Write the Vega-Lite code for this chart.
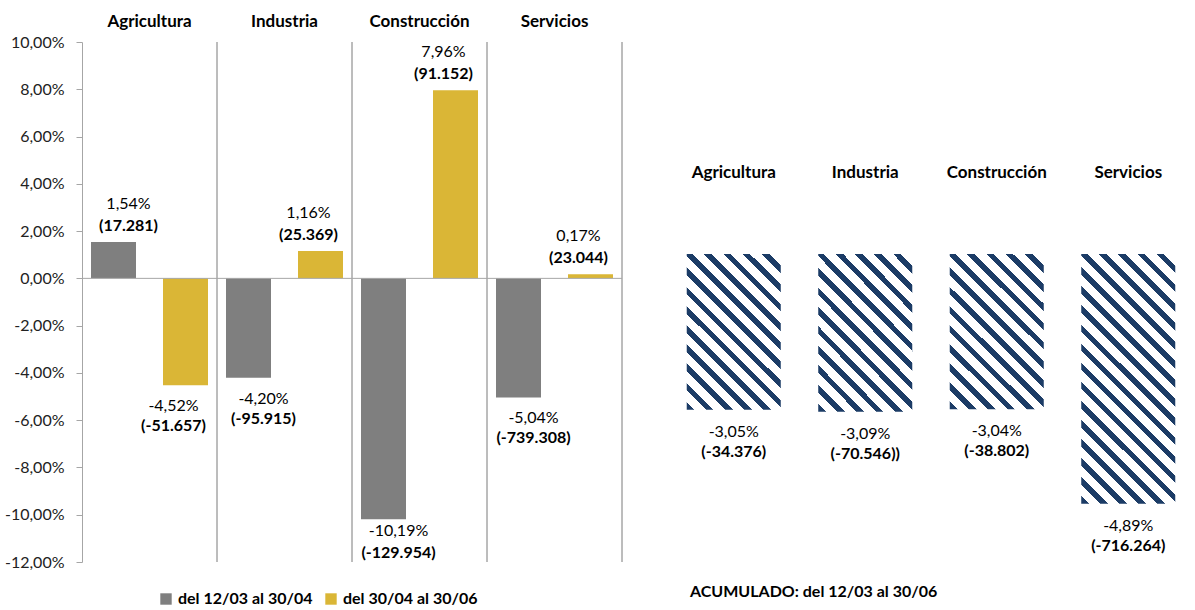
{
  "$schema": "https://vega.github.io/schema/vega-lite/v6.json",
  "padding": {"left": 4, "top": 12, "right": 0, "bottom": 0},
  "autosize": {"type": "pad"},
  "background": "white",
  "spacing": 46,
  "bounds": "flush",
  "config": {
    "view": {"stroke": null},
    "font": "Lato",
    "locale": {"number": {"decimal": ",", "thousands": ".", "grouping": [3], "currency": ["", " €"], "minus": "-"}},
    "axis": {"labelFont": "Lato"},
    "legend": {"labelFont": "Lato"},
    "title": {"font": "Lato"}
  },
  "datasets": {
    "left": [
      {"cat": "Agricultura", "series": "del 12/03 al 30/04", "value": 0.0154, "lab": "(17.281)"},
      {"cat": "Agricultura", "series": "del 30/04 al 30/06", "value": -0.0452, "lab": "(-51.657)"},
      {"cat": "Industria", "series": "del 12/03 al 30/04", "value": -0.0420, "lab": "(-95.915)"},
      {"cat": "Industria", "series": "del 30/04 al 30/06", "value": 0.0116, "lab": "(25.369)"},
      {"cat": "Construcción", "series": "del 12/03 al 30/04", "value": -0.1019, "lab": "(-129.954)"},
      {"cat": "Construcción", "series": "del 30/04 al 30/06", "value": 0.0796, "lab": "(91.152)"},
      {"cat": "Servicios", "series": "del 12/03 al 30/04", "value": -0.0504, "lab": "(-739.308)"},
      {"cat": "Servicios", "series": "del 30/04 al 30/06", "value": 0.0017, "lab": "(23.044)"}
    ],
    "right": [
      {"cat": "Agricultura", "value": -0.0305, "lab": "(-34.376)"},
      {"cat": "Industria", "value": -0.0309, "lab": "(-70.546))"},
      {"cat": "Construcción", "value": -0.0304, "lab": "(-38.802)"},
      {"cat": "Servicios", "value": -0.0489, "lab": "(-716.264)"}
    ]
  },
  "hconcat": [
    {
      "width": 540,
      "height": 520,
      "data": {"name": "left"},
      "layer": [
        {
          "mark": {"type": "bar"},
          "encoding": {
            "x": {"field": "cat", "type": "nominal", "sort": ["Agricultura", "Industria", "Construcción", "Servicios"],
              "scale": {"paddingInner": 0, "paddingOuter": 0},
              "axis": {"orient": "top", "title": null, "domain": false, "ticks": false, "labelAngle": 0, "labelFontWeight": "bold", "labelFontSize": 17, "labelPadding": 12, "labelColor": "#000"}},
            "xOffset": {"field": "series", "type": "nominal", "scale": {"paddingInner": 0.375, "paddingOuter": 0.125}},
            "y": {"field": "value", "type": "quantitative",
              "scale": {"domain": [-0.12, 0.10], "nice": false, "zero": false},
              "axis": {"title": null, "format": ".2%", "values": [-0.12, -0.1, -0.08, -0.06, -0.04, -0.02, 0, 0.02, 0.04, 0.06, 0.08, 0.1], "grid": false, "domainColor": "#a6a6a6", "tickColor": "#a6a6a6", "tickSize": 6, "labelPadding": 12, "labelFontSize": 16, "labelColor": "#222"}},
            "color": {"field": "series", "type": "nominal",
              "scale": {"range": ["#7f7f7f", "#dab636"]},
              "legend": {"orient": "none", "legendX": 76, "legendY": 549, "direction": "horizontal", "title": null, "symbolType": "square", "symbolSize": 130, "symbolStrokeWidth": 0, "labelFontSize": 16, "labelFontWeight": "bold", "labelColor": "#000", "labelOffset": 4, "columnPadding": 10, "padding": 0}}
          }
        },
        {
          "mark": {"type": "rule", "color": "#a6a6a6", "strokeWidth": 1, "xOffset": 67.5},
          "encoding": {
            "x": {"field": "cat", "type": "nominal", "sort": ["Agricultura", "Industria", "Construcción", "Servicios"]}
          }
        },
        {
          "data": {"values": [{}]},
          "mark": {"type": "rule", "color": "#a6a6a6", "strokeWidth": 1},
          "encoding": {"y": {"datum": 0, "type": "quantitative"}}
        },
        {
          "mark": {"type": "text", "fontSize": 16, "baseline": "middle", "color": "#000",
            "dx": {"expr": "datum.series == 'del 12/03 al 30/04' ? 15 : -12"},
            "dy": {"expr": "datum.value >= 0 ? -38 : (datum.value < -0.1 ? 12 : 21)"}},
          "encoding": {
            "x": {"field": "cat", "type": "nominal", "sort": ["Agricultura", "Industria", "Construcción", "Servicios"]},
            "xOffset": {"field": "series", "type": "nominal"},
            "y": {"field": "value", "type": "quantitative"},
            "text": {"field": "value", "type": "quantitative", "format": ".2%"}
          }
        },
        {
          "mark": {"type": "text", "fontSize": 16, "fontWeight": "bold", "baseline": "middle", "color": "#000",
            "dx": {"expr": "datum.series == 'del 12/03 al 30/04' ? 15 : -12"},
            "dy": {"expr": "datum.value >= 0 ? -16 : (datum.value < -0.1 ? 34 : 41)"}},
          "encoding": {
            "x": {"field": "cat", "type": "nominal", "sort": ["Agricultura", "Industria", "Construcción", "Servicios"]},
            "xOffset": {"field": "series", "type": "nominal"},
            "y": {"field": "value", "type": "quantitative"},
            "text": {"field": "lab", "type": "nominal"}
          }
        }
      ]
    },
    {
      "width": 526,
      "height": 520,
      "data": {"name": "right"},
      "title": {"text": "ACUMULADO: del 12/03 al 30/06", "orient": "bottom", "anchor": "start", "fontSize": 16, "fontWeight": "bold", "color": "#000", "offset": 22, "dx": 22},
      "encoding": {
        "x": {"field": "cat", "type": "nominal", "sort": ["Agricultura", "Industria", "Construcción", "Servicios"],
          "scale": {"paddingInner": 0.285, "paddingOuter": 0.1425},
          "axis": {"orient": "top", "offset": -151, "title": null, "domain": false, "ticks": false, "labelAngle": 0, "labelFontWeight": "bold", "labelFontSize": 17, "labelPadding": 12, "labelColor": "#000"}},
        "y": {"field": "value", "type": "quantitative", "scale": {"domain": [-0.0603, 0.0415], "nice": false, "zero": false}, "axis": null}
      },
      "layer": [
        {
          "transform": [{"filter": "datum.cat != 'Servicios'"}],
          "mark": {"type": "bar", "fill": {"gradient": "linear", "x1": 0, "y1": 1, "x2": 0.7084, "y2": -0.1757, "stops": [
            {"offset": 0, "color": "#1c3c66"}, {"offset": 0.0308, "color": "#1c3c66"}, {"offset": 0.0308, "color": "#ffffff"}, {"offset": 0.0769, "color": "#ffffff"},
            {"offset": 0.0769, "color": "#1c3c66"}, {"offset": 0.1077, "color": "#1c3c66"}, {"offset": 0.1077, "color": "#ffffff"}, {"offset": 0.1538, "color": "#ffffff"},
            {"offset": 0.1538, "color": "#1c3c66"}, {"offset": 0.1846, "color": "#1c3c66"}, {"offset": 0.1846, "color": "#ffffff"}, {"offset": 0.2308, "color": "#ffffff"},
            {"offset": 0.2308, "color": "#1c3c66"}, {"offset": 0.2615, "color": "#1c3c66"}, {"offset": 0.2615, "color": "#ffffff"}, {"offset": 0.3077, "color": "#ffffff"},
            {"offset": 0.3077, "color": "#1c3c66"}, {"offset": 0.3385, "color": "#1c3c66"}, {"offset": 0.3385, "color": "#ffffff"}, {"offset": 0.3846, "color": "#ffffff"},
            {"offset": 0.3846, "color": "#1c3c66"}, {"offset": 0.4154, "color": "#1c3c66"}, {"offset": 0.4154, "color": "#ffffff"}, {"offset": 0.4615, "color": "#ffffff"},
            {"offset": 0.4615, "color": "#1c3c66"}, {"offset": 0.4923, "color": "#1c3c66"}, {"offset": 0.4923, "color": "#ffffff"}, {"offset": 0.5385, "color": "#ffffff"},
            {"offset": 0.5385, "color": "#1c3c66"}, {"offset": 0.5692, "color": "#1c3c66"}, {"offset": 0.5692, "color": "#ffffff"}, {"offset": 0.6154, "color": "#ffffff"},
            {"offset": 0.6154, "color": "#1c3c66"}, {"offset": 0.6462, "color": "#1c3c66"}, {"offset": 0.6462, "color": "#ffffff"}, {"offset": 0.6923, "color": "#ffffff"},
            {"offset": 0.6923, "color": "#1c3c66"}, {"offset": 0.7231, "color": "#1c3c66"}, {"offset": 0.7231, "color": "#ffffff"}, {"offset": 0.7692, "color": "#ffffff"},
            {"offset": 0.7692, "color": "#1c3c66"}, {"offset": 0.8, "color": "#1c3c66"}, {"offset": 0.8, "color": "#ffffff"}, {"offset": 0.8462, "color": "#ffffff"},
            {"offset": 0.8462, "color": "#1c3c66"}, {"offset": 0.8769, "color": "#1c3c66"}, {"offset": 0.8769, "color": "#ffffff"}, {"offset": 0.9231, "color": "#ffffff"},
            {"offset": 0.9231, "color": "#1c3c66"}, {"offset": 0.9538, "color": "#1c3c66"}, {"offset": 0.9538, "color": "#ffffff"}, {"offset": 1, "color": "#ffffff"}
          ]}},
          "encoding": {}
        },
        {
          "transform": [{"filter": "datum.cat == 'Servicios'"}],
          "mark": {"type": "bar", "fill": {"gradient": "linear", "x1": 0, "y1": 1, "x2": 0.4533, "y2": -0.2056, "stops": [
            {"offset": 0, "color": "#1c3c66"}, {"offset": 0.0222, "color": "#1c3c66"}, {"offset": 0.0222, "color": "#ffffff"}, {"offset": 0.0556, "color": "#ffffff"},
            {"offset": 0.0556, "color": "#1c3c66"}, {"offset": 0.0778, "color": "#1c3c66"}, {"offset": 0.0778, "color": "#ffffff"}, {"offset": 0.1111, "color": "#ffffff"},
            {"offset": 0.1111, "color": "#1c3c66"}, {"offset": 0.1333, "color": "#1c3c66"}, {"offset": 0.1333, "color": "#ffffff"}, {"offset": 0.1667, "color": "#ffffff"},
            {"offset": 0.1667, "color": "#1c3c66"}, {"offset": 0.1889, "color": "#1c3c66"}, {"offset": 0.1889, "color": "#ffffff"}, {"offset": 0.2222, "color": "#ffffff"},
            {"offset": 0.2222, "color": "#1c3c66"}, {"offset": 0.2444, "color": "#1c3c66"}, {"offset": 0.2444, "color": "#ffffff"}, {"offset": 0.2778, "color": "#ffffff"},
            {"offset": 0.2778, "color": "#1c3c66"}, {"offset": 0.3, "color": "#1c3c66"}, {"offset": 0.3, "color": "#ffffff"}, {"offset": 0.3333, "color": "#ffffff"},
            {"offset": 0.3333, "color": "#1c3c66"}, {"offset": 0.3556, "color": "#1c3c66"}, {"offset": 0.3556, "color": "#ffffff"}, {"offset": 0.3889, "color": "#ffffff"},
            {"offset": 0.3889, "color": "#1c3c66"}, {"offset": 0.4111, "color": "#1c3c66"}, {"offset": 0.4111, "color": "#ffffff"}, {"offset": 0.4444, "color": "#ffffff"},
            {"offset": 0.4444, "color": "#1c3c66"}, {"offset": 0.4667, "color": "#1c3c66"}, {"offset": 0.4667, "color": "#ffffff"}, {"offset": 0.5, "color": "#ffffff"},
            {"offset": 0.5, "color": "#1c3c66"}, {"offset": 0.5222, "color": "#1c3c66"}, {"offset": 0.5222, "color": "#ffffff"}, {"offset": 0.5556, "color": "#ffffff"},
            {"offset": 0.5556, "color": "#1c3c66"}, {"offset": 0.5778, "color": "#1c3c66"}, {"offset": 0.5778, "color": "#ffffff"}, {"offset": 0.6111, "color": "#ffffff"},
            {"offset": 0.6111, "color": "#1c3c66"}, {"offset": 0.6333, "color": "#1c3c66"}, {"offset": 0.6333, "color": "#ffffff"}, {"offset": 0.6667, "color": "#ffffff"},
            {"offset": 0.6667, "color": "#1c3c66"}, {"offset": 0.6889, "color": "#1c3c66"}, {"offset": 0.6889, "color": "#ffffff"}, {"offset": 0.7222, "color": "#ffffff"},
            {"offset": 0.7222, "color": "#1c3c66"}, {"offset": 0.7444, "color": "#1c3c66"}, {"offset": 0.7444, "color": "#ffffff"}, {"offset": 0.7778, "color": "#ffffff"},
            {"offset": 0.7778, "color": "#1c3c66"}, {"offset": 0.8, "color": "#1c3c66"}, {"offset": 0.8, "color": "#ffffff"}, {"offset": 0.8333, "color": "#ffffff"},
            {"offset": 0.8333, "color": "#1c3c66"}, {"offset": 0.8556, "color": "#1c3c66"}, {"offset": 0.8556, "color": "#ffffff"}, {"offset": 0.8889, "color": "#ffffff"},
            {"offset": 0.8889, "color": "#1c3c66"}, {"offset": 0.9111, "color": "#1c3c66"}, {"offset": 0.9111, "color": "#ffffff"}, {"offset": 0.9444, "color": "#ffffff"},
            {"offset": 0.9444, "color": "#1c3c66"}, {"offset": 0.9667, "color": "#1c3c66"}, {"offset": 0.9667, "color": "#ffffff"}, {"offset": 1, "color": "#ffffff"}
          ]}},
          "encoding": {}
        },
        {
          "data": {"values": [{}]},
          "mark": {"type": "rule", "color": "#a6a6a6", "strokeWidth": 1.5},
          "encoding": {"x": null, "y": {"datum": 0, "type": "quantitative"}}
        },
        {
          "mark": {"type": "text", "fontSize": 16, "baseline": "middle", "color": "#000", "dy": 22},
          "encoding": {"text": {"field": "value", "type": "quantitative", "format": ".2%"}}
        },
        {
          "mark": {"type": "text", "fontSize": 16, "fontWeight": "bold", "baseline": "middle", "color": "#000", "dy": 42},
          "encoding": {"text": {"field": "lab", "type": "nominal"}}
        }
      ]
    }
  ]
}
